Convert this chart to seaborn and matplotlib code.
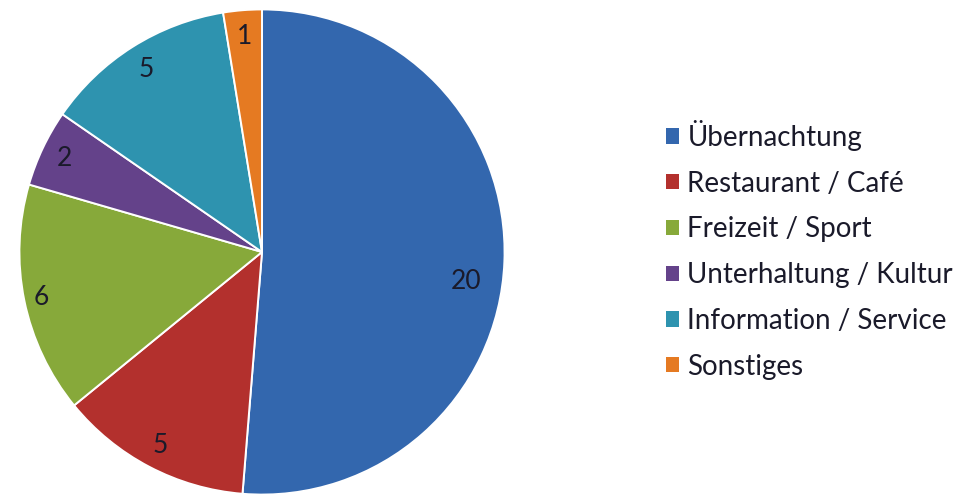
import numpy as np
import matplotlib
matplotlib.use("Agg")
import matplotlib.pyplot as plt
import seaborn as sns
from matplotlib.patches import Patch

sns.set_theme(style="white")
plt.rcParams["font.family"] = ["Lato", "DejaVu Sans"]

categories = ["Übernachtung", "Restaurant / Café", "Freizeit / Sport",
              "Unterhaltung / Kultur", "Information / Service", "Sonstiges"]
counts = [20, 5, 6, 2, 5, 1]
colors = ["#3367AE", "#B3302D", "#87A93A", "#64428A", "#2E93AF", "#E57A22"]
# radial position of each value label (fraction of the radius) and angular nudge (deg)
label_dist = [0.85, 0.9, 0.93, 0.9, 0.89, 0.89]
label_nudge = [-6, 0, 0, 0, 0, 0]

fig = plt.figure(figsize=(9.59, 4.99), dpi=100)
W, H = 959, 499
cx, cy, r = 262, 252, 245
ax = fig.add_axes([(cx - r) / W, (H - cy - r) / H, 2 * r / W, 2 * r / H])

wedges, _ = ax.pie(counts, colors=colors, startangle=90, counterclock=False,
                   radius=1.0,
                   wedgeprops=dict(edgecolor="white", linewidth=1.4))
ax.set_xlim(-1.01, 1.01)
ax.set_ylim(-1.01, 1.01)
ax.set_aspect("equal")
ax.axis("off")

for w, val, d, nudge in zip(wedges, counts, label_dist, label_nudge):
    mid = np.deg2rad((w.theta1 + w.theta2) / 2 + nudge)
    ax.text(d * np.cos(mid), d * np.sin(mid), str(val),
            ha="center", va="center", fontsize=19, color="#1a1a2a")

handles = [Patch(facecolor=c, edgecolor="none") for c in colors]
leg = fig.legend(handles, categories, loc="upper left",
                 bbox_to_anchor=(666 / W, 1 - 120 / H),
                 frameon=False, fontsize=20, labelspacing=0.71,
                 handlelength=0.47, handleheight=0.47, handletextpad=0.3,
                 borderaxespad=0, borderpad=0)
for t in leg.get_texts():
    t.set_color("#1a1a2a")

fig.savefig("out.png", dpi=100, facecolor="white")
